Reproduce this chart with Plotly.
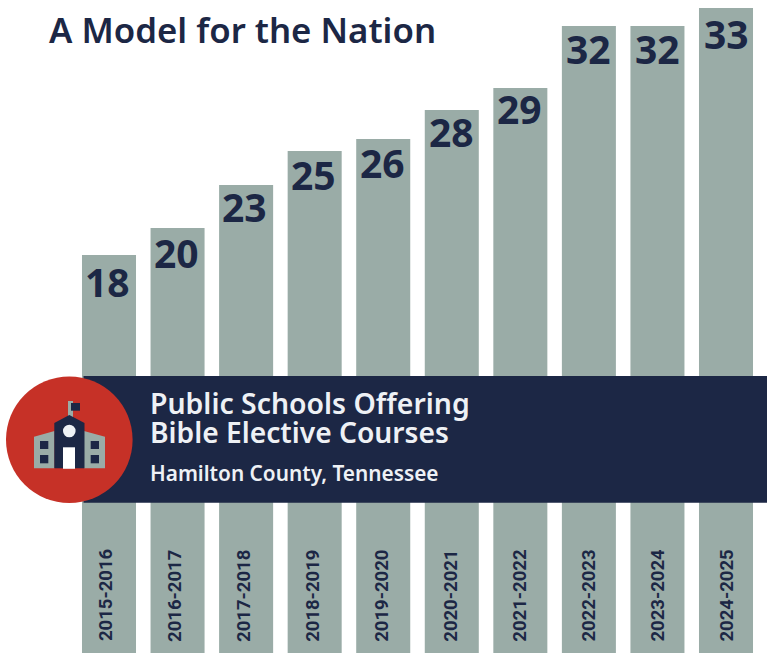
import plotly.graph_objects as go

years = ["2015-2016", "2016-2017", "2017-2018", "2018-2019", "2019-2020",
         "2020-2021", "2021-2022", "2022-2023", "2023-2024", "2024-2025"]
values = [18, 20, 23, 25, 26, 28, 29, 32, 32, 33]
# The source's bars are not strictly proportional to their labels: drawn lengths.
drawn_lengths = [20.36, 21.74, 23.94, 25.68, 26.30, 27.78, 28.91, 32.08, 32.08, 33.0]

NAVY = "#1c2745"
GREY = "#9aaca7"
RED = "#c63127"
WHITE = "#eef1f5"
W, H = 767, 653
FONT = "Noto Sans"


def px(x):
    return x / W


def py(y):
    return 1 - y / H


def poly(points, color):
    path = "M " + " L ".join(f"{px(a):.5f},{py(b):.5f}" for a, b in points) + " Z"
    return dict(type="path", xref="paper", yref="paper", path=path,
                fillcolor=color, line_width=0, layer="above")


def rect(x0, y0, x1, y1, color):
    return dict(type="rect", xref="paper", yref="paper", x0=px(x0), x1=px(x1),
                y0=py(y1), y1=py(y0), fillcolor=color, line_width=0, layer="above")


def circle(cx, cy, r, color):
    return dict(type="circle", xref="paper", yref="paper", x0=px(cx - r), x1=px(cx + r),
                y0=py(cy + r), y1=py(cy - r), fillcolor=color, line_width=0, layer="above")


def label(text, x, y, size, color=WHITE, weight=600):
    return dict(text=text, xref="paper", yref="paper", x=px(x), y=py(y), xanchor="left",
                yanchor="middle", showarrow=False,
                font=dict(family=FONT, size=size, color=color, weight=weight))


fig = go.Figure(go.Bar(
    x=years, y=drawn_lengths,
    marker=dict(color=GREY, line_width=0),
))

shapes = [
    rect(83.5, 376, 767, 502.8, NAVY),
    circle(69.3, 439.7, 63.3, RED),
    rect(68, 401, 73, 417, GREY),
    rect(71, 403, 80, 410.7, NAVY),
    poly([(34, 468.3), (34, 436.7), (54.5, 431), (54.5, 468.3)], GREY),
    poly([(84, 431), (105, 436.7), (105, 468.3), (84, 468.3)], GREY),
    poly([(54.3, 468.3), (54.3, 423), (69.3, 415), (84.5, 423), (84.5, 468.3)], NAVY),
    circle(69.3, 431, 6.3, WHITE),
    rect(63, 447.3, 75, 468.8, "#ffffff"),
    rect(40, 441, 48.3, 449, NAVY),
    rect(40, 455, 48.3, 463.3, NAVY),
    rect(90.7, 441, 99, 449, NAVY),
    rect(90.7, 455, 99, 463.3, NAVY),
]

annotations = [
    label("A Model for the Nation", 47, 29, 34.8, NAVY, 600),
    label("Public Schools Offering", 148, 403, 28.4),
    label("Bible Elective Courses", 148, 432, 28.2),
    label("Hamilton County, Tennessee", 148, 473, 20.8),
]

# Distance in pixels from each bar's top to the centre of its number, as placed in the source.
number_drop = [26, 24, 21, 23, 24, 21, 21, 23, 23, 25]
for i, (yr, v, length) in enumerate(zip(years, values, drawn_lengths)):
    annotations.append(dict(text=str(v), x=yr, y=length, xref="x", yref="y", showarrow=False,
                            xanchor="center", yanchor="middle", yshift=-number_drop[i],
                            xshift=-1.5 * (9 - i) / 9,
                            font=dict(family=FONT, size=39, color=NAVY, weight=700)))
    annotations.append(dict(text=yr, x=yr, xref="x", yref="paper", y=py(595.5), textangle=-90,
                            showarrow=False, xanchor="center", yanchor="middle",
                            xshift=-3.5 * (9 - i) / 9,
                            font=dict(family="Roboto", size=18.5, color=NAVY, weight=700)))

fig.update_layout(
    width=W, height=H, margin=dict(l=0, r=0, t=0, b=0),
    paper_bgcolor="#ffffff", plot_bgcolor="#ffffff", showlegend=False, bargap=0.212,
    xaxis=dict(type="category", range=[-1.59, 9.598], visible=False, fixedrange=True),
    yaxis=dict(range=[0, 33.41], visible=False, fixedrange=True),
    shapes=shapes, annotations=annotations,
)
fig.write_html("out.html", config=dict(displayModeBar=False, responsive=False),
               post_script="document.body.style.margin='0';document.body.style.overflow='hidden';")
